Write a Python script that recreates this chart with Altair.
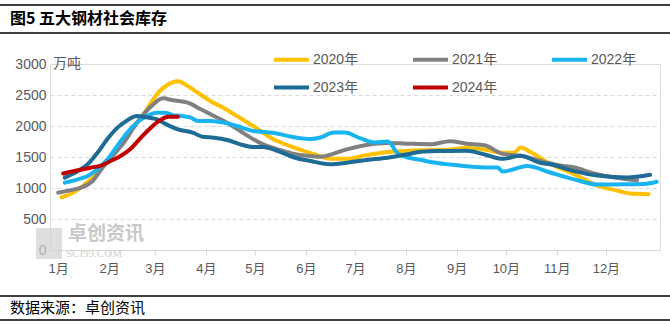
import altair as alt
import pandas as pd

# ---- data ----
month_labels = ['1月', '2月', '3月', '4月', '5月', '6月', '7月', '8月', '9月', '10月', '11月', '12月']
month_start_days = [0, 31, 59, 90, 120, 151, 181, 212, 243, 273, 304, 334]
y_ticks = [0, 500, 1000, 1500, 2000, 2500, 3000]

series_names = ['2020年', '2021年', '2022年', '2023年', '2024年']
series_colors = ['#FFC000', '#808080', '#19B4F0', '#1E6B96', '#C00000']

days_2020 = [2, 9, 15, 21, 27, 34, 40, 46, 52, 56, 62, 67, 73, 79, 85, 93, 101, 109, 119, 131, 143, 156, 166, 176,
             188, 201, 213, 225, 239, 249, 260, 271, 278, 282, 288, 298, 314, 329, 341, 349, 360]
vals_2020 = [850, 925, 1030, 1170, 1355, 1570, 1785, 2000, 2190, 2350, 2565, 2670, 2720, 2645, 2540, 2400, 2290, 2160,
             2000, 1790, 1660, 1545, 1470, 1470, 1530, 1580, 1600, 1610, 1620, 1650, 1620, 1568, 1570, 1652, 1580,
             1420, 1230, 1040, 957, 910, 900]

days_2021 = [0, 7, 15, 21, 27, 34, 40, 46, 52, 58, 64, 70, 79, 87, 95, 103, 111, 119, 125, 134, 143, 154, 160, 168,
             176, 188, 201, 213, 227, 239, 249, 260, 271, 282, 298, 308, 315, 326, 337, 347, 353]
vals_2021 = [925, 962, 1016, 1113, 1328, 1543, 1731, 1973, 2188, 2349, 2446, 2414, 2376, 2269, 2161, 2054, 1920, 1785,
             1704, 1624, 1554, 1516, 1505, 1554, 1624, 1694, 1726, 1715, 1706, 1755, 1714, 1690, 1550, 1520, 1410,
             1356, 1330, 1240, 1180, 1140, 1125]

days_2022 = [4, 12, 18, 24, 30, 36, 42, 48, 54, 60, 65, 70, 74, 81, 85, 93, 101, 109, 119, 125, 134, 143, 154, 160,
             168, 175, 184, 193, 201, 207, 212, 221, 229, 239, 249, 262, 268, 271, 286, 300, 314, 329, 345, 357, 365]
vals_2022 = [1086, 1140, 1194, 1301, 1462, 1677, 1892, 2054, 2161, 2215, 2215, 2175, 2165, 2134, 2081, 2081, 2054, 2000,
             1919, 1905, 1876, 1823, 1790, 1815, 1895, 1895, 1805, 1735, 1748, 1560, 1500, 1455, 1410, 1378, 1351,
             1330, 1330, 1265, 1355, 1250, 1144, 1055, 1060, 1064, 1100]

days_2023 = [4, 12, 18, 24, 30, 36, 42, 48, 54, 60, 66, 73, 82, 88, 95, 103, 111, 119, 125, 134, 143, 154, 166, 176,
             188, 201, 213, 221, 233, 249, 260, 271, 282, 294, 300, 314, 329, 347, 361]
vals_2023 = [1167, 1274, 1382, 1570, 1790, 1970, 2090, 2161, 2140, 2110, 2027, 1946, 1892, 1828, 1812, 1774, 1704, 1661,
             1661, 1597, 1500, 1435, 1382, 1409, 1452, 1489, 1543, 1586, 1597, 1599, 1541, 1470, 1520, 1405, 1383,
             1277, 1200, 1170, 1213]

days_2024 = [3, 12, 20, 26, 32, 38, 44, 50, 56, 62, 67, 73]
vals_2024 = [1235, 1285, 1328, 1360, 1435, 1516, 1630, 1800, 1960, 2090, 2150, 2150]

all_days = [days_2020, days_2021, days_2022, days_2023, days_2024]
all_vals = [vals_2020, vals_2021, vals_2022, vals_2023, vals_2024]

rows = []
for name, ds, vs in zip(series_names, all_days, all_vals):
    for d, v in zip(ds, vs):
        rows.append({'series': name, 'day': d, 'value': v})
df = pd.DataFrame(rows)

FONT = 'Liberation Sans, Noto Sans CJK SC'
CJK = 'Noto Sans CJK SC'
label_expr = "[" + ",".join("'%s'" % m for m in month_labels) + "][indexof([" + \
    ",".join(str(d) for d in month_start_days) + "], datum.value)]"

lines = alt.Chart(df).mark_line(strokeWidth=4, interpolate='monotone', strokeCap='round', strokeJoin='round').encode(
    x=alt.X('day:Q', scale=alt.Scale(domain=[-5, 367], nice=False, zero=False),
            axis=alt.Axis(values=month_start_days, labelExpr=label_expr, title=None, grid=False,
                          domainColor='#D9D9D9', tickColor='#D9D9D9', tickSize=5, labelPadding=7,
                          labelFontSize=13, labelColor='#595959', labelFont=FONT)),
    y=alt.Y('value:Q', scale=alt.Scale(domain=[0, 3000], nice=False),
            axis=alt.Axis(values=y_ticks, format='d', title=None, grid=True, gridDash=[4, 3],
                          gridColor='#D9D9D9', domain=False, ticks=False, labelPadding=4, labelFontSize=14,
                          labelColor='#595959', labelFont=FONT)),
    color=alt.Color('series:N', scale=alt.Scale(domain=series_names, range=series_colors),
                    legend=alt.Legend(title=None, orient='none', legendX=222, legendY=-24, columns=3,
                                      direction='horizontal', symbolType='stroke', symbolSize=1225,
                                      symbolStrokeWidth=4, labelFontSize=14, labelColor='#595959',
                                      labelFont=FONT, columnPadding=46, rowPadding=-3, labelOffset=2,
                                      gridAlign='all')),
)

def txt(s, x, y, size, color, weight='normal', align='left', font=CJK, opacity=1.0):
    return alt.Chart().mark_text(text=s, align=align, baseline='middle', fontSize=size, color=color,
                                 fontWeight=weight, font=font, opacity=opacity).encode(
        x=alt.value(x), y=alt.value(y))

def hrule(y, w=1.5):
    return alt.Chart().mark_rule(color='black', strokeWidth=w).encode(
        x=alt.value(-50), x2=alt.value(620), y=alt.value(y))

watermark_box = alt.Chart().mark_rect(color='#D0D0D0', opacity=0.7).encode(
    x=alt.value(-14), x2=alt.value(12), y=alt.value(164), y2=alt.value(195))
watermark1 = txt('卓创资讯', 18, 170, 19, '#C8C8C8', weight='bold')
watermark2 = txt('SCI99.COM', 16, 190, 11, '#CFCFCF', font='Liberation Serif')

chart = alt.layer(
    watermark_box, watermark1, watermark2,
    lines,
    txt('万吨', 3, 0, 14, '#595959'),
    txt('图5 五大钢材社会库存', -40, -45, 16, 'black', weight='bold'),
    txt('数据来源：卓创资讯', -40, 244, 15, 'black'),
    hrule(-59), hrule(-31), hrule(232), hrule(256),
).properties(
    width=610, height=186,
    autosize=alt.AutoSizeParams(type='none'),
    padding={'left': 50, 'top': 64, 'right': 10, 'bottom': 74},
).configure_view(stroke=None).configure(background='white')

chart.save('out.html', embed_options={'renderer': 'svg', 'actions': False})
